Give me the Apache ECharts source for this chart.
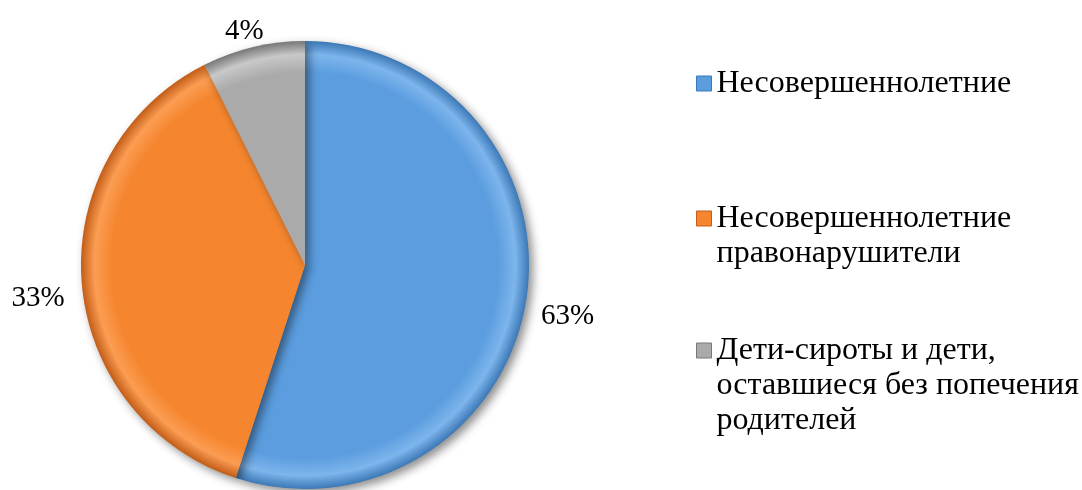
<!DOCTYPE html>
<html>
<head>
<meta charset="utf-8">
<script src="https://cdn.jsdelivr.net/npm/echarts@6/dist/echarts.min.js"></script>
<style>
	html, body { margin: 0; padding: 0; background: #fff; }
	#main { width: 1082px; height: 490px; }
</style>
</head>
<body>
<div id="main"></div>
<script>
// категории и значения (углы секторов по картинке), подписи как на рисунке
var categories = ['Несовершеннолетние', 'Несовершеннолетние\nправонарушители', 'Дети-сироты и дети,\nоставшиеся без попечения\nродителей'];
var values = [55, 37.6, 7.4];
var labelTexts = ['63%', '33%', '4%'];
var baseColors = [
	['#7db5ec', '#5b9ddf', '#3b78b6'],
	['#fb9d52', '#f5852e', '#c25c17'],
	['#c8c8c8', '#aaaaaa', '#777777']
];
// сдвиг подписей (как в оригинале)
var labelShift = [[-2, 14], [0, 16], [18, -4]];

var cx = 305, cy = 265, R = 224;
var LH = 35;

function grad(c) {
	return {
		type: 'radial', x: cx, y: cy, r: R, global: true,
		colorStops: [
			{ offset: 0, color: c[1] },
			{ offset: 0.86, color: c[1] },
			{ offset: 0.94, color: c[0] },
			{ offset: 1, color: c[2] }
		]
	};
}

var pieData = [];
for (var i = 0; i < categories.length; i++) {
	pieData.push({
		name: categories[i],
		value: values[i],
		itemStyle: { color: grad(baseColors[i]) },
		label: { formatter: labelTexts[i] }
	});
}

var legendTops = [66, 166, 263];
var legends = [];
for (var j = 0; j < categories.length; j++) {
	legends.push({
		data: [{ name: categories[j], icon: 'rect', itemStyle: { color: baseColors[j][1], borderColor: baseColors[j][2], borderWidth: 1 } }],
		orient: 'vertical',
		left: 696,
		top: legendTops[j],
		itemWidth: 15,
		itemHeight: 15,
		itemGap: 0,
		padding: 0,
		selectedMode: false,
		formatter: function (name) {
			// пустые строки сверху, чтобы значок стоял у первой строки
			var n = name.split('\n').length;
			return new Array(n).join('\n') + name;
		},
		textStyle: {
			fontFamily: 'Liberation Serif',
			fontSize: 32,
			color: '#000',
			lineHeight: LH
		}
	});
}

var myChart = echarts.init(document.getElementById('main'));
var option = {
	animation: false,
	legend: legends,
	series: [{
		type: 'pie',
		center: [cx, cy],
		radius: R,
		startAngle: 90,
		clockwise: true,
		data: pieData,
		itemStyle: {
			shadowBlur: 10,
			shadowOffsetX: 4,
			shadowOffsetY: 4,
			shadowColor: 'rgba(0,0,0,0.45)'
		},
		label: {
			show: true,
			position: 'outside',
			fontFamily: 'Liberation Serif',
			fontSize: 29,
			color: '#000'
		},
		labelLine: { show: false, length: 12, length2: 0 },
		labelLayout: function (params) {
			var s = labelShift[params.dataIndex];
			return { dx: s[0], dy: s[1] };
		},
		emphasis: { disabled: true }
	}]
};
myChart.setOption(option);
</script>
</body>
</html>
